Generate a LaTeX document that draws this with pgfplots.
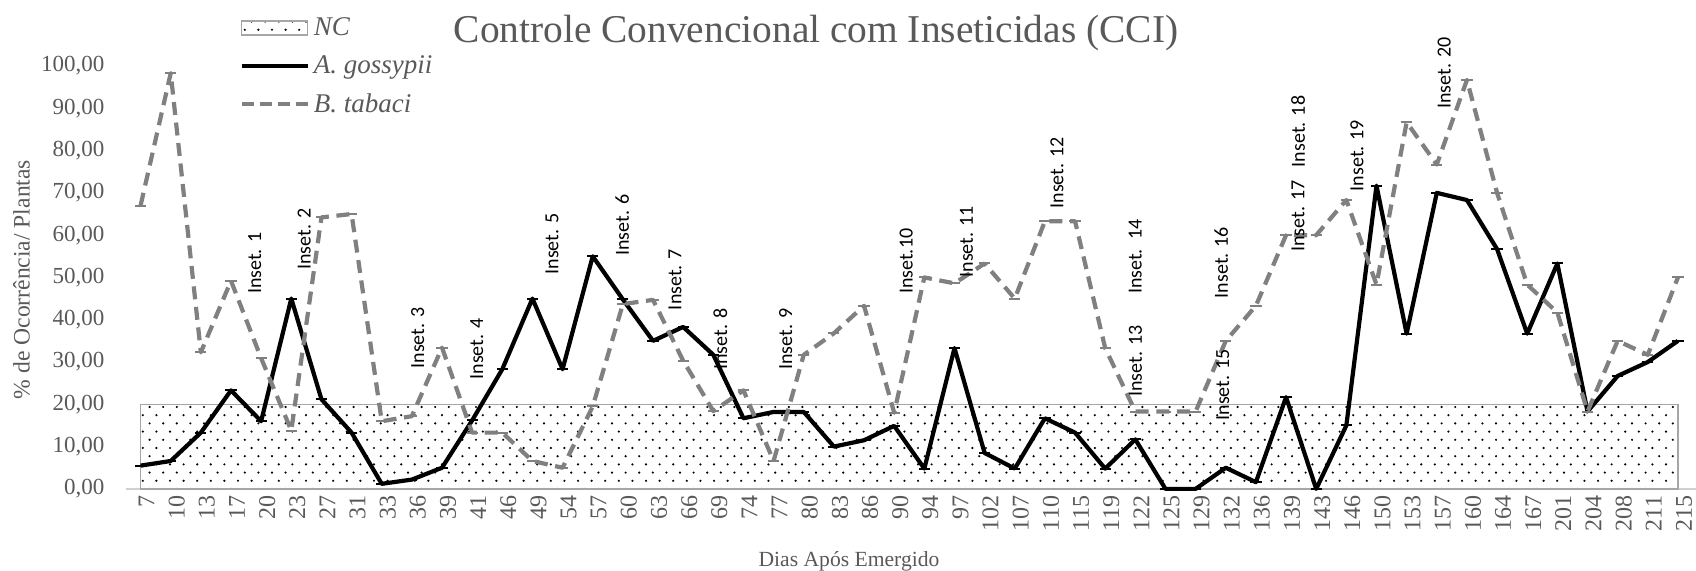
\documentclass[border=0pt]{standalone}
\usepackage{pgfplots}
\pgfplotsset{compat=1.18}
\usepackage{pgfplotstable}
\usepackage{fontspec}
\setmainfont{Liberation Serif}
\newfontfamily\carlito{Carlito}
\usetikzlibrary{patterns.meta}
\definecolor{txtgray}{HTML}{595959}
\definecolor{lngray}{HTML}{808080}
\definecolor{axgray}{HTML}{D0D0D0}
\definecolor{ncgray}{HTML}{A6A6A6}

\tikzdeclarepattern{
  name=ncdots,
  type=uncolored,
  bottom left={(-0.7pt,-0.7pt)},
  top right={(4.1pt,4.8pt)},
  tile size={(6.8pt,8.2pt)},
  code={\fill (0pt,0pt) circle (0.6pt); \fill (3.4pt,4.1pt) circle (0.6pt);}
}

\pgfplotstableread{
idx cat ag bt
0 7 5.5 67.0
1 10 6.6 98.3
2 13 13.3 32.3
3 17 23.3 49.2
4 20 16.0 30.9
5 23 45.0 13.8
6 27 21.2 64.2
7 31 13.3 65.0
8 33 1.2 16.0
9 36 2.2 17.2
10 39 5.0 33.4
11 41 16.2 13.3
12 46 28.3 13.3
13 49 45.0 6.6
14 54 28.3 5.0
15 57 55.0 19.5
16 60 44.8 43.7
17 63 35.0 44.7
18 66 38.3 30.3
19 69 31.7 18.4
20 74 16.7 23.3
21 77 18.2 6.6
22 80 18.2 31.7
23 83 10.0 36.8
24 86 11.5 43.3
25 90 14.9 18.0
26 94 4.8 50.0
27 97 33.3 48.6
28 102 8.5 53.3
29 107 4.8 45.0
30 110 16.7 63.3
31 115 13.3 63.3
32 119 4.8 33.3
33 122 11.7 18.3
34 125 0.0 18.3
35 129 0.0 18.3
36 132 5.0 35.0
37 136 1.6 43.3
38 139 21.7 60.0
39 143 0.0 60.0
40 146 15.0 68.3
41 150 71.7 48.3
42 153 36.7 86.7
43 157 70.0 76.7
44 160 68.3 96.7
45 164 56.7 70.0
46 167 36.7 48.3
47 201 53.3 41.7
48 204 18.3 18.3
49 208 26.7 35.0
50 211 30.0 31.7
51 215 35.0 50.0
}\datatable

\begin{document}
\begin{tikzpicture}
\useasboundingbox (0,0) rectangle (848pt,285.5pt);
\begin{axis}[
  at={(62.75pt,41.05pt)}, anchor=south west,
  scale only axis, width=785.25pt, height=211.45pt,
  xmin=-0.5, xmax=51.6, ymin=0, ymax=100,
  clip=false,
  axis x line*=bottom, axis y line*=left,
  x axis line style={draw=axgray, line width=1pt, -},
  y axis line style={draw=none},
  major tick length=0pt,
  xtick={0,...,51},
  xticklabels from table={\datatable}{cat},
  xticklabel style={rotate=90, anchor=east, yshift=-3pt, text=txtgray, font=\fontsize{12}{14}\selectfont},
  ytick={0,10,...,100},
  yticklabels={{0,00},{10,00},{20,00},{30,00},{40,00},{50,00},{60,00},{70,00},{80,00},{90,00},{100,00}},
  yticklabel style={text=txtgray, font=\fontsize{11.5}{13}\selectfont, xshift=-7pt},
  xlabel={Dias Após Emergido},
  xlabel style={at={(axis description cs:0.4607,-0.172)}, anchor=center, text=txtgray, font=\fontsize{10.8}{12}\selectfont},
  ylabel={\% de Ocorrência/ Plantas},
  ylabel style={at={(axis description cs:-0.0662,0.495)}, anchor=center, rotate=0, text=txtgray, font=\fontsize{11.8}{13}\selectfont},
  title={Controle Convencional com Inseticidas (CCI)},
  title style={at={(axis description cs:0.4397,1.049)}, anchor=center, text=txtgray, font=\fontsize{19.7}{23}\selectfont},
  legend style={at={(axis description cs:0.0723,0.999)}, anchor=west, draw=none, fill=none, inner sep=0pt,
    row sep=4.5pt, font=\itshape\fontsize{13.5}{15}\selectfont, text=txtgray,
    nodes={inner sep=2pt}},
  legend cell align=left,
]
\addplot[draw=ncgray, line width=0.8pt, pattern=ncdots, pattern color=black,
  legend image code/.code={\draw[draw=ncgray, line width=0.8pt, pattern=ncdots, pattern color=black] (0pt,-3.5pt) rectangle (33pt,3.5pt);}]
  coordinates {(0,20) (51,20)} \closedcycle;
\addlegendentry{NC}
\addplot[black, line width=2.1pt, line join=round, mark=-, mark size=2.8pt, mark options={solid, line width=1pt},
  legend image code/.code={\draw[black, line width=2.2pt] (0pt,0pt) -- (33pt,0pt);}]
  table[x=idx, y=ag]{\datatable};
\addlegendentry{A. gossypii}
\addplot[lngray, line width=2.1pt, line join=round, dash pattern=on 6.5pt off 3.8pt, mark=-, mark size=2.8pt, mark options={solid, line width=1pt},
  legend image code/.code={\draw[lngray, line width=2.2pt, dash pattern=on 6pt off 3pt] (0pt,0pt) -- (33pt,0pt);}]
  table[x=idx, y=bt]{\datatable};
\addlegendentry{B. tabaci}

\begin{scope}[every node/.style={rotate=90, anchor=west, inner sep=0pt, font=\carlito\fontsize{10}{12}\selectfont}]
\node at (axis cs:3.79,46) {Inset. 1};
\node at (axis cs:5.43,51.7) {Inset. 2};
\node at (axis cs:9.19,28.4) {Inset. 3};
\node at (axis cs:11.15,25.8) {Inset. 4};
\node at (axis cs:13.65,50.6) {Inset. 5};
\node at (axis cs:15.98,55) {Inset. 6};
\node at (axis cs:17.73,42.2) {Inset. 7};
\node at (axis cs:19.23,28.1) {Inset. 8};
\node at (axis cs:21.4,28.1) {Inset. 9};
\node at (axis cs:25.4,46) {Inset.10};
\node at (axis cs:27.4,49.9) {Inset. 11};
\node at (axis cs:30.4,66.2) {Inset. 12};
\node at (axis cs:33.0,21.7) {Inset. 13};
\node at (axis cs:33.0,46) {Inset.~~14};
\node at (axis cs:35.9,16.1) {Inset. 15};
\node at (axis cs:35.85,45) {Inset. 16};
\node at (axis cs:38.4,56) {Inset. 17};
\node at (axis cs:38.4,76) {Inset. 18};
\node at (axis cs:40.35,70.3) {Inset. 19};
\node at (axis cs:43.25,89.8) {Inset. 20};
\end{scope}
\end{axis}
\end{tikzpicture}
\end{document}
